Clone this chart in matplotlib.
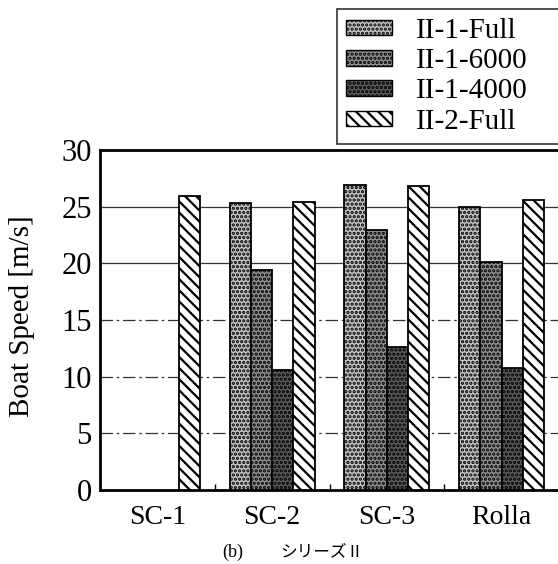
import matplotlib
matplotlib.use("Agg")
import matplotlib.pyplot as plt
import numpy as np
from matplotlib.patches import Patch

categories = ["SC-1", "SC-2", "SC-3", "Rolla"]
series_names = ["II-1-Full", "II-1-6000", "II-1-4000", "II-2-Full"]
ii1_full = [np.nan, 25.3, 26.9, 24.95]
ii1_6000 = [np.nan, 19.4, 22.9, 20.1]
ii1_4000 = [np.nan, 10.6, 12.6, 10.8]
ii2_full = [25.9, 25.4, 26.8, 25.6]
y_ticks = [0, 5, 10, 15, 20, 25, 30]

series = [ii1_full, ii1_6000, ii1_4000, ii2_full]
faces = ["#c4c4c4", "#8e8e8e", "#5a5a5a", "white"]
hatches = ["....", "....", "....", "\\\\\\"]

serif = "Liberation Serif"
plt.rcParams["hatch.linewidth"] = 1.6

fig = plt.figure(figsize=(5.58, 5.64), dpi=100)
ax = fig.add_axes([100/558, 1-490/564, 459/558, 340/564])

x = np.arange(len(categories))
w = 0.185
for i, (vals, fc, h) in enumerate(zip(series, faces, hatches)):
    ax.bar(x + (i - 1.5) * w, vals, width=w, facecolor=fc, edgecolor="black",
           hatch=h, linewidth=1.3, zorder=3, label=series_names[i])

ax.set_xlim(-0.5, 3.5)
ax.set_ylim(0, 30)
ax.set_yticks(y_ticks)
ax.set_yticklabels([str(t) for t in y_ticks], fontfamily=serif, fontsize=22)
ax.set_xticks(x)
ax.set_xticklabels(categories, fontfamily=serif, fontsize=20)
ax.set_xticks([0.5, 1.5, 2.5], minor=True)
ax.tick_params(axis="x", which="major", length=0, pad=11)
ax.tick_params(axis="x", which="minor", direction="in", length=4, width=1)
ax.tick_params(axis="y", which="major", length=0, pad=6)
for yv in y_ticks[1:-1]:
    ls = "-" if yv >= 20 else (0, (10, 3, 2, 3))
    ax.axhline(yv, color="#333333", linewidth=0.9, linestyle=ls, zorder=1)
for s in ["left", "top", "bottom", "right"]:
    ax.spines[s].set_linewidth(2)

fig.text(22/558, 1 - 316/564, "Boat Speed [m/s]", fontfamily=serif, fontsize=21,
         rotation=90, ha="center", va="center")

handles = [Patch(facecolor=fc, edgecolor="black", hatch=h, linewidth=1.0)
           for fc, h in zip(faces, hatches)]
leg = fig.legend(handles, series_names, loc="upper left",
                 bbox_to_anchor=(337/558, 1 - 9/564, 240/558, 0), mode="expand",
                 prop={"family": serif, "size": 21},
                 frameon=True, fancybox=False, edgecolor="black",
                 handlelength=1.6, handleheight=0.45, handletextpad=0.8,
                 labelspacing=0.15, borderpad=0.3, borderaxespad=0)
leg.get_frame().set_linewidth(1.2)

fig.text(243/558, 1 - 552/564, "(b)", fontfamily=serif, fontsize=13, ha="right", va="center")
fig.text(280/558, 1 - 552/564, "シリーズⅡ", fontfamily=["Noto Sans CJK JP", "DejaVu Sans"],
         fontsize=12, ha="left", va="center")

fig.savefig("out.png", dpi=100)
